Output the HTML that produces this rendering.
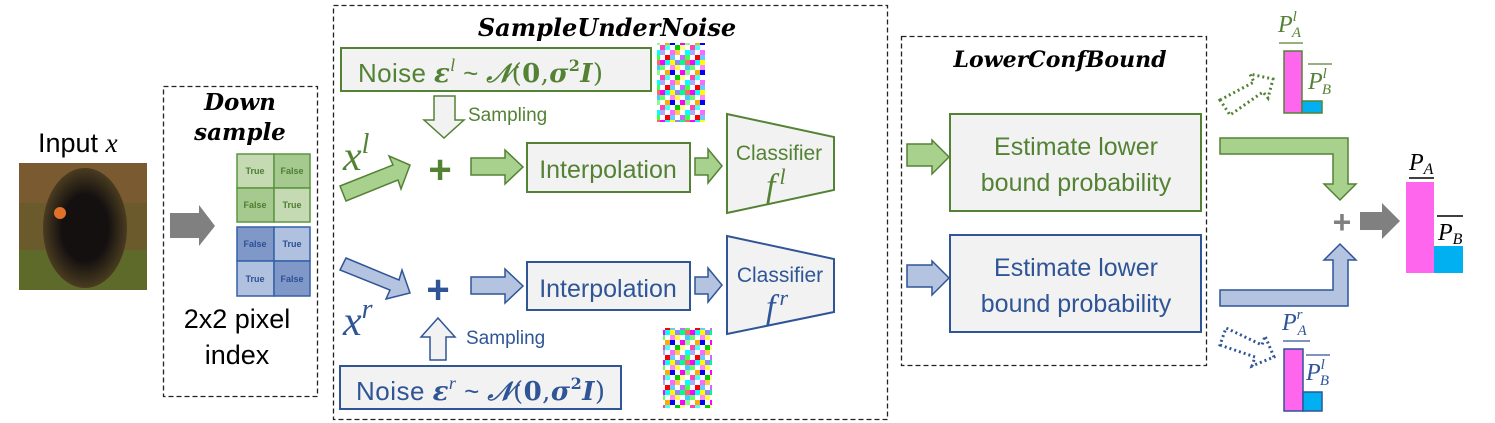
<!DOCTYPE html>
<html><head><meta charset="utf-8"><style>
html,body{margin:0;padding:0;background:#fff;}
svg{display:block;}
text{font-family:"Liberation Sans",sans-serif;}
.m{font-family:"Liberation Serif","DejaVu Serif",serif;font-style:italic;}
.b{font-family:"DejaVu Serif","Liberation Serif",serif;font-style:italic;font-weight:bold;}
.t{font-family:"DejaVu Serif","Liberation Serif",serif;font-style:italic;font-weight:bold;}
</style></head><body>
<svg width="1495" height="423" viewBox="0 0 1495 423" xmlns="http://www.w3.org/2000/svg">
<defs>
<pattern id="nz" width="30" height="30" patternUnits="userSpaceOnUse">
<rect width="30" height="30" fill="#fff"/>
<rect x="0" y="0" width="5" height="5" fill="#f0f"/><rect x="5" y="0" width="5" height="5" fill="#0ff"/><rect x="10" y="0" width="5" height="5" fill="#ff0"/><rect x="15" y="0" width="5" height="5" fill="#88f"/><rect x="20" y="0" width="5" height="5" fill="#0f8"/><rect x="25" y="0" width="5" height="5" fill="#f66"/>
<rect x="0" y="5" width="5" height="5" fill="#6f6"/><rect x="10" y="5" width="5" height="5" fill="#f8f"/><rect x="15" y="5" width="5" height="5" fill="#ff4"/><rect x="25" y="5" width="5" height="5" fill="#4cf"/>
<rect x="5" y="10" width="5" height="5" fill="#fa0"/><rect x="10" y="10" width="5" height="5" fill="#00f"/><rect x="20" y="10" width="5" height="5" fill="#f0f"/><rect x="25" y="10" width="5" height="5" fill="#8f8"/>
<rect x="0" y="15" width="5" height="5" fill="#f4a"/><rect x="5" y="15" width="5" height="5" fill="#4ff"/><rect x="15" y="15" width="5" height="5" fill="#0c0"/><rect x="20" y="15" width="5" height="5" fill="#ff8"/>
<rect x="0" y="20" width="5" height="5" fill="#aaf"/><rect x="10" y="20" width="5" height="5" fill="#f6f"/><rect x="15" y="20" width="5" height="5" fill="#fc4"/><rect x="25" y="20" width="5" height="5" fill="#0ff"/>
<rect x="5" y="25" width="5" height="5" fill="#f00"/><rect x="10" y="25" width="5" height="5" fill="#6cf"/><rect x="20" y="25" width="5" height="5" fill="#c6f"/><rect x="25" y="25" width="5" height="5" fill="#4f4"/>
</pattern>
<radialGradient id="dog" cx="0.5" cy="0.5" r="0.5"><stop offset="0.55" stop-color="#141010"/><stop offset="1" stop-color="#4a3c20"/></radialGradient>
</defs>

<!-- Input -->
<text x="38" y="152" font-size="27">Input <tspan class="m">x</tspan></text>
<rect x="19" y="163" width="128" height="127" fill="#6b5a2c"/>
<rect x="19" y="163" width="128" height="40" fill="#7a5a30"/>
<rect x="19" y="250" width="128" height="40" fill="#5d6a2a"/>
<ellipse cx="85" cy="228" rx="42" ry="60" fill="url(#dog)"/>
<circle cx="60" cy="213" r="6" fill="#e0702a"/>
<polygon points="170,213 199,213 199,205 215,226 199,246 199,238 170,238" fill="#808080"/>

<!-- Down sample -->
<rect x="163.5" y="86.5" width="154" height="310" fill="none" stroke="#222" stroke-width="1.3" stroke-dasharray="5,3"/>
<text x="240" y="110" font-size="23" text-anchor="middle" class="t">Down</text>
<text x="240" y="140" font-size="23" text-anchor="middle" class="t">sample</text>
<g font-size="9" font-weight="bold" text-anchor="middle">
<rect x="237" y="154" width="37" height="34" fill="#c5d9b3" stroke="#5b9540" stroke-width="1.5"/>
<rect x="274" y="154" width="36" height="34" fill="#a6c98f" stroke="#5b9540" stroke-width="1.5"/>
<rect x="237" y="188" width="37" height="34" fill="#a6c98f" stroke="#5b9540" stroke-width="1.5"/>
<rect x="274" y="188" width="36" height="34" fill="#c5d9b3" stroke="#5b9540" stroke-width="1.5"/>
<text x="255" y="174" fill="#4c7e30">True</text><text x="292" y="174" fill="#4c7e30">False</text>
<text x="255" y="208" fill="#4c7e30">False</text><text x="292" y="208" fill="#4c7e30">True</text>
<rect x="237" y="227" width="37" height="34" fill="#7f98c8" stroke="#3560a8" stroke-width="1.5"/>
<rect x="274" y="227" width="36" height="34" fill="#b0c0df" stroke="#3560a8" stroke-width="1.5"/>
<rect x="237" y="261" width="37" height="35" fill="#b0c0df" stroke="#3560a8" stroke-width="1.5"/>
<rect x="274" y="261" width="36" height="35" fill="#7f98c8" stroke="#3560a8" stroke-width="1.5"/>
<text x="255" y="247" fill="#2c4f95">False</text><text x="292" y="247" fill="#2c4f95">True</text>
<text x="255" y="282" fill="#2c4f95">True</text><text x="292" y="282" fill="#2c4f95">False</text>
</g>
<text x="237" y="328" font-size="27" text-anchor="middle">2x2 pixel</text>
<text x="237" y="364" font-size="27" text-anchor="middle">index</text>

<!-- SampleUnderNoise -->
<rect x="333.5" y="5.5" width="554" height="414" fill="none" stroke="#222" stroke-width="1.3" stroke-dasharray="5,3"/>
<text x="607" y="36" font-size="24" text-anchor="middle" class="t">SampleUnderNoise</text>

<rect x="341" y="48" width="310" height="43" fill="#f2f2f2" stroke="#548235" stroke-width="2"/>
<text x="358" y="82" font-size="26" fill="#548235" textLength="245" lengthAdjust="spacing">Noise <tspan class="b">ε</tspan><tspan class="m" font-size="18" dy="-11">l</tspan><tspan dy="11"> ~ </tspan><tspan class="b">𝒩</tspan><tspan font-family="DejaVu Serif">(</tspan><tspan font-family="DejaVu Serif" font-weight="bold">0</tspan><tspan font-family="DejaVu Serif">,</tspan><tspan class="b">σ</tspan><tspan font-family="DejaVu Serif" font-weight="bold" font-size="16" dy="-11">2</tspan><tspan class="b" dy="11">I</tspan><tspan font-family="DejaVu Serif">)</tspan></text>
<rect x="657" y="43" width="48" height="79" fill="url(#nz)"/>
<polygon points="434,96 455,96 455,120 464,120 444,138 424,120 434,120" fill="#f2f2f2" stroke="#548235" stroke-width="1.5"/>
<text x="468" y="121" font-size="19" fill="#548235">Sampling</text>

<text x="343" y="170" font-size="42" class="m" fill="#548235">x<tspan font-size="28" dy="-17">l</tspan></text>
<polygon points="340,186 393,165 389,156 410,165 401,189 398,180 346,201" fill="#a9d18e" stroke="#548235" stroke-width="1.5"/>
<text x="440" y="183" font-size="40" font-weight="bold" text-anchor="middle" fill="#548235">+</text>
<polygon points="471,158 505,158 505,150 523,167 505,184 505,175 471,175" fill="#a9d18e" stroke="#548235" stroke-width="1.5"/>
<rect x="527" y="143" width="163" height="49" fill="#f2f2f2" stroke="#548235" stroke-width="2"/>
<text x="608" y="178" font-size="25" text-anchor="middle" fill="#548235">Interpolation</text>
<polygon points="695,158 708,158 708,149 722,166 708,183 708,175 695,175" fill="#a9d18e" stroke="#548235" stroke-width="1.5"/>
<polygon points="727,114 834,137 834,190 727,213" fill="#f2f2f2" stroke="#548235" stroke-width="2"/>
<text x="779" y="160" font-size="21" text-anchor="middle" fill="#548235">Classifier</text>
<text x="766" y="197" font-size="34" class="m" fill="#548235">f<tspan font-size="22" dx="4" dy="-13">l</tspan></text>

<polygon points="346,258 399,280 402,270 410,293 386,299 390,290 340,270" fill="#b4c4e0" stroke="#2f5597" stroke-width="1.5"/>
<text x="343" y="335" font-size="42" class="m" fill="#2f5597">x<tspan font-size="28" dy="-17">r</tspan></text>
<text x="438" y="303" font-size="40" font-weight="bold" text-anchor="middle" fill="#2f5597">+</text>
<polygon points="471,277 505,277 505,269 523,286 505,303 505,294 471,294" fill="#b4c4e0" stroke="#2f5597" stroke-width="1.5"/>
<rect x="527" y="262" width="163" height="48" fill="#f2f2f2" stroke="#2f5597" stroke-width="2"/>
<text x="608" y="297" font-size="25" text-anchor="middle" fill="#2f5597">Interpolation</text>
<polygon points="695,277 708,277 708,268 722,285 708,302 708,294 695,294" fill="#b4c4e0" stroke="#2f5597" stroke-width="1.5"/>
<polygon points="727,236 834,259 834,312 727,334" fill="#f2f2f2" stroke="#2f5597" stroke-width="2"/>
<text x="780" y="282" font-size="21" text-anchor="middle" fill="#2f5597">Classifier</text>
<text x="766" y="318" font-size="34" class="m" fill="#2f5597">f<tspan font-size="22" dx="4" dy="-13">r</tspan></text>

<polygon points="430,360 446,360 446,337 455,337 438,318 421,337 430,337" fill="#f2f2f2" stroke="#2f5597" stroke-width="1.5"/>
<text x="466" y="344" font-size="19" fill="#2f5597">Sampling</text>
<rect x="340" y="366" width="281" height="43" fill="#f2f2f2" stroke="#2f5597" stroke-width="2"/>
<text x="356" y="400" font-size="26" fill="#2f5597" textLength="249" lengthAdjust="spacing">Noise <tspan class="b">ε</tspan><tspan class="m" font-size="18" dy="-11">r</tspan><tspan dy="11"> ~ </tspan><tspan class="b">𝒩</tspan><tspan font-family="DejaVu Serif">(</tspan><tspan font-family="DejaVu Serif" font-weight="bold">0</tspan><tspan font-family="DejaVu Serif">,</tspan><tspan class="b">σ</tspan><tspan font-family="DejaVu Serif" font-weight="bold" font-size="16" dy="-11">2</tspan><tspan class="b" dy="11">I</tspan><tspan font-family="DejaVu Serif">)</tspan></text>
<rect x="663" y="328" width="49" height="80" fill="url(#nz)"/>

<!-- LowerConfBound -->
<rect x="901.5" y="36.5" width="305" height="329" fill="none" stroke="#222" stroke-width="1.3" stroke-dasharray="5,3"/>
<text x="1060" y="67" font-size="22" text-anchor="middle" class="t">LowerConfBound</text>
<polygon points="907,144 932,144 932,140 949,157 932,174 932,166 907,166" fill="#a9d18e" stroke="#548235" stroke-width="1.5"/>
<rect x="950" y="114" width="251" height="97" fill="#f2f2f2" stroke="#548235" stroke-width="2"/>
<text x="1076" y="155" font-size="25" text-anchor="middle" fill="#548235">Estimate lower</text>
<text x="1076" y="191" font-size="25" text-anchor="middle" fill="#548235">bound probability</text>
<polygon points="907,265 932,265 932,261 949,278 932,295 932,287 907,287" fill="#b4c4e0" stroke="#2f5597" stroke-width="1.5"/>
<rect x="950" y="235" width="251" height="97" fill="#f2f2f2" stroke="#2f5597" stroke-width="2"/>
<text x="1076" y="276" font-size="25" text-anchor="middle" fill="#2f5597">Estimate lower</text>
<text x="1076" y="312" font-size="25" text-anchor="middle" fill="#2f5597">bound probability</text>

<!-- right side -->
<polygon points="1220,138 1348,138 1348,184 1356,184 1340,200 1324,184 1333,184 1333,154 1220,154" fill="#a9d18e" stroke="#548235" stroke-width="1.5"/>
<polygon points="1220,290 1333,290 1333,260 1324,260 1340,244 1356,260 1348,260 1348,306 1220,306" fill="#b4c4e0" stroke="#2f5597" stroke-width="1.5"/>
<text x="1342" y="233" font-size="32" text-anchor="middle" fill="#808080" font-weight="bold">+</text>
<polygon points="1360,212 1382,212 1382,203 1400,221 1382,239 1382,230 1360,230" fill="#808080"/>
<rect x="1406" y="182" width="28" height="91" fill="#ff66ee"/>
<rect x="1434" y="246" width="29" height="27" fill="#00b0f0"/>
<line x1="1409" y1="178" x2="1434" y2="178" stroke="#000" stroke-width="1.5"/>
<text x="1409" y="170" font-size="24" class="m">P<tspan font-size="16" dy="4">A</tspan></text>
<line x1="1437" y1="216" x2="1463" y2="216" stroke="#000" stroke-width="1.5"/>
<text x="1438" y="240" font-size="24" class="m">P<tspan font-size="16" dy="4">B</tspan></text>

<polygon points="1220,100 1254,82 1250,74 1273,79 1268,98 1263,92 1230,115" fill="none" stroke="#548235" stroke-width="3" stroke-dasharray="2,3"/>
<rect x="1284" y="51" width="18" height="62" fill="#ff66ee" stroke="#548235" stroke-width="1.5"/>
<rect x="1302" y="101" width="20" height="12" fill="#00b0f0" stroke="#548235" stroke-width="1.5"/>
<line x1="1279" y1="43" x2="1303" y2="43" stroke="#548235" stroke-width="1.3"/>
<text x="1278" y="32" font-size="24" class="m" fill="#548235">P<tspan font-size="15" dy="-11">l</tspan><tspan font-size="15" dx="-5" dy="16">A</tspan></text>
<line x1="1308" y1="64" x2="1332" y2="64" stroke="#548235" stroke-width="1.3"/>
<text x="1308" y="89" font-size="24" class="m" fill="#548235">P<tspan font-size="15" dy="-11">l</tspan><tspan font-size="15" dx="-5" dy="16">B</tspan></text>

<polygon points="1220,345 1255,357 1252,366 1274,357 1265,336 1262,345 1226,328" fill="none" stroke="#2f5597" stroke-width="3" stroke-dasharray="2,3"/>
<rect x="1284" y="349" width="19" height="62" fill="#ff66ee" stroke="#2f5597" stroke-width="1.5"/>
<rect x="1303" y="392" width="19" height="19" fill="#00b0f0" stroke="#2f5597" stroke-width="1.5"/>
<line x1="1283" y1="341" x2="1310" y2="341" stroke="#2f5597" stroke-width="1.3"/>
<text x="1282" y="330" font-size="24" class="m" fill="#2f5597">P<tspan font-size="15" dy="-11">r</tspan><tspan font-size="15" dx="-5" dy="16">A</tspan></text>
<line x1="1306" y1="355" x2="1330" y2="355" stroke="#2f5597" stroke-width="1.3"/>
<text x="1306" y="380" font-size="24" class="m" fill="#2f5597">P<tspan font-size="15" dy="-11">l</tspan><tspan font-size="15" dx="-5" dy="16">B</tspan></text>
</svg>
</body></html>
